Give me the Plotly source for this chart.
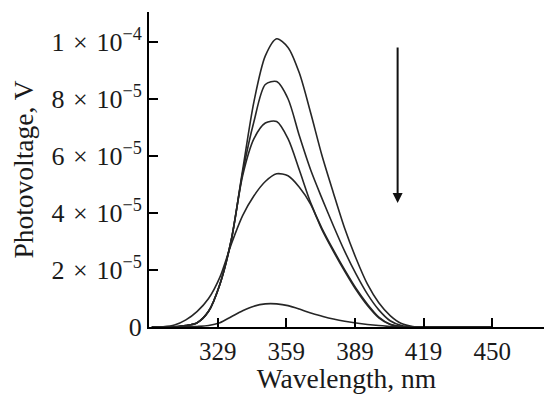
import numpy as np
import plotly.graph_objects as go

# Wavelength grid (nm)
wavelength = [300, 305, 310, 315, 320, 325, 330, 335, 340, 345, 350, 355, 360, 365, 370,
              375, 380, 385, 390, 395, 400, 405, 410, 415, 420, 425, 430, 435, 440, 445, 450]

# Photovoltage in units of 1e-5 V
curve_1 = [0, 0, 0.01, 0.05, 0.15, 0.55, 1.5, 3.05, 5.5, 7.9, 9.5, 10.1, 9.8, 8.9, 7.5,
           6.0, 4.7, 3.45, 2.4, 1.5, 0.85, 0.4, 0.12, 0.02, 0, 0, 0, 0, 0, 0, 0]
curve_2 = [0, 0, 0.01, 0.05, 0.15, 0.55, 1.5, 3.05, 5.4, 7.2, 8.5, 8.6, 8.0, 6.7, 5.5,
           4.5, 3.55, 2.65, 1.85, 1.15, 0.6, 0.22, 0.05, 0, 0, 0, 0, 0, 0, 0, 0]
curve_3 = [0, 0, 0.01, 0.05, 0.15, 0.55, 1.5, 3.05, 5.3, 6.6, 7.15, 7.2, 6.6, 5.5, 4.35,
           3.45, 2.7, 2.0, 1.35, 0.8, 0.35, 0.1, 0.02, 0, 0, 0, 0, 0, 0, 0, 0]
curve_4 = [0, 0.01, 0.07, 0.25, 0.55, 1.0, 1.75, 2.9, 3.9, 4.6, 5.1, 5.37, 5.3, 4.9, 4.3,
           3.4, 2.65, 1.95, 1.3, 0.75, 0.32, 0.09, 0.02, 0, 0, 0, 0, 0, 0, 0, 0]
curve_5 = [0, 0, 0, 0.01, 0.02, 0.05, 0.15, 0.36, 0.57, 0.73, 0.81, 0.81, 0.75, 0.63, 0.49,
           0.38, 0.28, 0.2, 0.14, 0.09, 0.05, 0.02, 0.01, 0, 0, 0, 0, 0, 0, 0, 0]

x_tick_vals = [329, 359.25, 389.5, 419.75, 450]
x_tick_text = ["329", "359", "389", "419", "450"]
y_tick_vals = [0, 2e-5, 4e-5, 6e-5, 8e-5, 1e-4]
SP = "\u2004"
y_tick_text = ["0"] + [f"{m}{SP}×{SP}10<sup>−{e}</sup>" for m, e in
                       [(2, 5), (4, 5), (6, 5), (8, 5), (1, 4)]]

FONT = "Liberation Serif"
INK = "#1a1a1a"

fig = go.Figure()
for c in [curve_1, curve_2, curve_3, curve_4, curve_5]:
    fig.add_trace(go.Scatter(
        x=wavelength, y=np.array(c) * 1e-5, mode="lines",
        line=dict(color="#262626", width=1.6, shape="spline", smoothing=0.8),
        showlegend=False, hoverinfo="skip"))

# downward arrow
fig.add_annotation(x=408.3, y=4.35e-5, ax=408.3, ay=9.85e-5, xref="x", yref="y",
                   axref="x", ayref="y", text="", showarrow=True,
                   arrowhead=2, arrowsize=1.0, arrowwidth=2, arrowcolor="#111")

fig.update_layout(
    width=544, height=394,
    margin=dict(l=149, r=0, t=12, b=67),
    paper_bgcolor="white", plot_bgcolor="white",
    font=dict(family=FONT, size=25, color=INK),
    xaxis=dict(range=[298.75, 472.8], showline=True, linecolor="black", linewidth=2,
               ticks="inside", ticklen=9, tickwidth=2, tickcolor="black",
               tickvals=x_tick_vals, ticktext=x_tick_text, showgrid=False, zeroline=False,
               ticklabelstandoff=1, tickfont=dict(size=25),
               title=dict(text="Wavelength, nm", standoff=4, font=dict(size=27.5))),
    yaxis=dict(range=[0, 11.04e-5], showline=True, linecolor="black", linewidth=2,
               ticks="inside", ticklen=9, tickwidth=2, tickcolor="black",
               tickvals=y_tick_vals, ticktext=y_tick_text, showgrid=False, zeroline=False,
               ticklabelstandoff=0, tickfont=dict(size=26),
               title=dict(text="Photovoltage, V", standoff=10, font=dict(size=27.5))),
)

fig.write_html("out.html")
